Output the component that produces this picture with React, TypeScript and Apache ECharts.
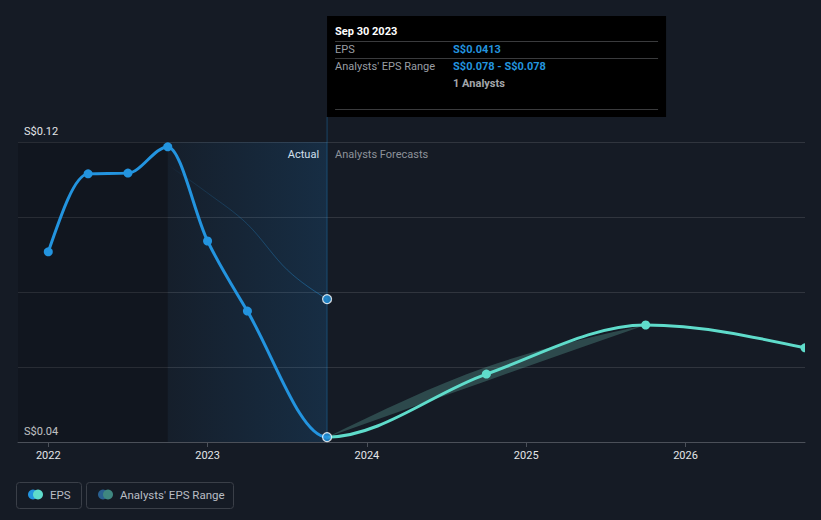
import React, { useEffect, useRef } from "react";
import * as echarts from "echarts";

// Decimal-year positions (quarter ends) and EPS values (S$)
const actualX = [2022.0, 2022.25, 2022.5, 2022.75, 2023.0, 2023.25, 2023.75];
const actualEps = [0.0907, 0.1115, 0.1117, 0.1187, 0.0936, 0.0749, 0.0413];
const pastEstX = [2022.75, 2023.0, 2023.25, 2023.5, 2023.75];
const pastEst = [0.1139, 0.1064, 0.0981, 0.0859, 0.0781];
const forecastX = [2023.75, 2024.75, 2025.75, 2026.75];
const forecastEps = [0.0413, 0.0581, 0.0712, 0.0651];
const rangeX = [2023.75, 2024.75, 2025.75];
const rangeLow = [0.0413, 0.0563, 0.0712];
const rangeHigh = [0.0413, 0.06, 0.0712];
const yearTicks = [2022, 2023, 2024, 2025, 2026];
const yTickLabels = [0.04, 0.12];

const X_MIN = 2021.81;
const X_MAX = 2026.75;
const HOVER_X = 2023.75;
const SPLIT_X = 2022.75;

const FONT = "Roboto, 'Noto Sans', sans-serif";
const BLUE = "#2394df";
const TEAL = "#5fdccb";
const BG = "#151b25";

// d3-style monotoneX tangents (pixel space)
function sgn(x: number) {
  return x < 0 ? -1 : 1;
}
function tangents(p: number[][]): number[] {
  const n = p.length;
  const t = new Array(n).fill(0);
  if (n < 2) return t;
  if (n === 2) {
    const s = (p[1][1] - p[0][1]) / (p[1][0] - p[0][0]);
    t[0] = s;
    t[1] = s;
    return t;
  }
  for (let i = 1; i < n - 1; i++) {
    const h0 = p[i][0] - p[i - 1][0];
    const h1 = p[i + 1][0] - p[i][0];
    const s0 = (p[i][1] - p[i - 1][1]) / h0;
    const s1 = (p[i + 1][1] - p[i][1]) / h1;
    const pp = (s0 * h1 + s1 * h0) / (h0 + h1);
    t[i] = (sgn(s0) + sgn(s1)) * Math.min(Math.abs(s0), Math.abs(s1), 0.5 * Math.abs(pp)) || 0;
  }
  const hA = p[1][0] - p[0][0];
  t[0] = (3 * (p[1][1] - p[0][1]) / hA - t[1]) / 2;
  const hB = p[n - 1][0] - p[n - 2][0];
  t[n - 1] = (3 * (p[n - 1][1] - p[n - 2][1]) / hB - t[n - 2]) / 2;
  return t;
}
function segs(p: number[][], t: number[], from: number, to: number): string {
  let d = "";
  for (let i = from; i < to; i++) {
    const [x0, y0] = p[i];
    const [x1, y1] = p[i + 1];
    const dx = (x1 - x0) / 3;
    d += ` C ${x0 + dx} ${y0 + dx * t[i]} ${x1 - dx} ${y1 - dx * t[i + 1]} ${x1} ${y1}`;
  }
  return d;
}
function segsReverse(p: number[][], t: number[]): string {
  let d = "";
  for (let i = p.length - 1; i > 0; i--) {
    const [x1, y1] = p[i];
    const [x0, y0] = p[i - 1];
    const dx = (x1 - x0) / 3;
    d += ` C ${x1 - dx} ${y1 - dx * t[i]} ${x0 + dx} ${y0 + dx * t[i - 1]} ${x0} ${y0}`;
  }
  return d;
}

export default function App() {
  const ref = useRef<HTMLDivElement>(null);
  useEffect(() => {
    document.body.style.margin = "0";
    const chart = echarts.init(ref.current!, null, { renderer: "svg" });

    // combined EPS path (actual then forecast, sharing the hover point)
    const combX = actualX.concat(forecastX.slice(1));
    const combY = actualEps.concat(forecastEps.slice(1));
    const splitIdx = actualX.length - 1;

    const option: any = {
      animation: false,
      backgroundColor: BG,
      textStyle: { fontFamily: FONT },
      grid: { left: 18, right: 16, top: 142, bottom: 78, containLabel: false },
      tooltip: { show: false },
      xAxis: {
        type: "value",
        min: X_MIN,
        max: X_MAX,
        splitLine: { show: false },
        axisLine: { lineStyle: { color: "#4b5059", width: 1 } },
        axisTick: { show: true, length: 5, customValues: yearTicks, lineStyle: { color: "#4b5059" } },
        axisLabel: {
          customValues: yearTicks,
          formatter: (v: number) => String(Math.round(v)),
          color: "#e3e5e8",
          fontSize: 11,
          margin: 8,
          fontFamily: FONT,
        },
      },
      yAxis: {
        type: "value",
        min: 0.04,
        max: 0.12,
        interval: 0.02,
        axisLine: { show: false },
        axisTick: { show: false },
        splitLine: { lineStyle: { color: "#30353e", width: 1 } },
        axisLabel: {
          inside: true,
          margin: 6,
          verticalAlign: "bottom",
          padding: [0, 0, 5, 0],
          color: "#e3e5e8",
          fontSize: 11,
          fontFamily: FONT,
          formatter: (v: number) =>
            yTickLabels.some((t) => Math.abs(t - v) < 1e-6) ? "S$" + v.toFixed(2) : "",
        },
      },
      series: [
        {
          name: "Analysts' EPS Range",
          type: "custom",
          silent: true,
          z: 1,
          encode: { x: 0, y: 1 },
          data: rangeX.map((x, i) => [x, rangeHigh[i]]),
          renderItem: (params: any, api: any) => {
            if (params.dataIndex !== 0) return null;
            const up = rangeX.map((x, i) => api.coord([x, rangeHigh[i]]));
            const lo = rangeX.map((x, i) => api.coord([x, rangeLow[i]]));
            const tu = tangents(up);
            const tl = tangents(lo);
            const d =
              `M ${up[0][0]} ${up[0][1]}` +
              segs(up, tu, 0, up.length - 1) +
              ` L ${lo[lo.length - 1][0]} ${lo[lo.length - 1][1]}` +
              segsReverse(lo, tl) +
              " Z";
            return {
              type: "path",
              shape: { pathData: d },
              style: { fill: "rgba(95,170,160,0.32)", stroke: "none" },
            };
          },
        },
        {
          name: "Past estimate",
          type: "custom",
          silent: true,
          z: 2,
          encode: { x: 0, y: 1 },
          data: pastEstX.map((x, i) => [x, pastEst[i]]),
          renderItem: (params: any, api: any) => {
            if (params.dataIndex !== 0) return null;
            const p = pastEstX.map((x, i) => api.coord([x, pastEst[i]]));
            const t = tangents(p);
            const d = `M ${p[0][0]} ${p[0][1]}` + segs(p, t, 0, p.length - 1);
            return {
              type: "path",
              shape: { pathData: d },
              style: {
                fill: "none",
                lineWidth: 1,
                stroke: new echarts.graphic.LinearGradient(0, 0, 1, 0, [
                  { offset: 0, color: "rgba(35,148,223,0)" },
                  { offset: 0.12, color: "rgba(35,148,223,0.12)" },
                  { offset: 1, color: "rgba(35,148,223,0.45)" },
                ]),
              },
            };
          },
        },
        {
          name: "EPS",
          type: "custom",
          silent: true,
          z: 3,
          clip: true,
          encode: { x: 0, y: 1 },
          data: combX.map((x, i) => [x, combY[i]]),
          renderItem: (params: any, api: any) => {
            if (params.dataIndex !== 0) return null;
            const p = combX.map((x, i) => api.coord([x, combY[i]]));
            const t = tangents(p);
            const dA = `M ${p[0][0]} ${p[0][1]}` + segs(p, t, 0, splitIdx);
            const dF = `M ${p[splitIdx][0]} ${p[splitIdx][1]}` + segs(p, t, splitIdx, p.length - 1);
            const dots = p
              .map((pt, i) =>
                i === splitIdx
                  ? null
                  : {
                      type: "circle",
                      shape: { cx: pt[0], cy: pt[1], r: 4.5 },
                      style: { fill: i < splitIdx ? BLUE : TEAL },
                    }
              )
              .filter(Boolean);
            return {
              type: "group",
              children: [
                {
                  type: "path",
                  shape: { pathData: dF },
                  style: { fill: "none", stroke: TEAL, lineWidth: 3, lineCap: "round", lineJoin: "round" },
                },
                {
                  type: "path",
                  shape: { pathData: dA },
                  style: { fill: "none", stroke: BLUE, lineWidth: 3, lineCap: "round", lineJoin: "round" },
                },
                ...dots,
              ],
            };
          },
        },
        {
          name: "Hover points",
          type: "scatter",
          silent: true,
          z: 4,
          symbol: "circle",
          symbolSize: 9,
          itemStyle: { color: BLUE, borderColor: "#ffffff", borderWidth: 1.2 },
          data: [
            [actualX[splitIdx], actualEps[splitIdx]],
            [pastEstX[pastEstX.length - 1], pastEst[pastEst.length - 1]],
          ],
          markArea: {
            silent: true,
            data: [
              [
                { xAxis: X_MIN, itemStyle: { color: "rgba(0,0,0,0.16)" } },
                { xAxis: SPLIT_X },
              ],
              [
                {
                  xAxis: SPLIT_X,
                  itemStyle: {
                    color: new echarts.graphic.LinearGradient(0, 0, 1, 0, [
                      { offset: 0, color: "rgba(33,150,243,0.03)" },
                      { offset: 1, color: "rgba(33,150,243,0.15)" },
                    ]),
                  },
                },
                { xAxis: HOVER_X },
              ],
            ],
          },
        },
      ],
    };
    chart.setOption(option);

    const [hx, yBottom] = chart.convertToPixel({ gridIndex: 0 }, [HOVER_X, 0.04]) as number[];
    const [, yTop] = chart.convertToPixel({ gridIndex: 0 }, [HOVER_X, 0.12]) as number[];
    const tipTop = 16;
    const tipH = 101;
    const tipW = 339;
    const tx = hx + 8;
    const vx = hx + 126;
    const dividerColor = "#3a3b3d";

    const legendItems = [
      { x: 16, w: 65, c1: BLUE, c2: TEAL, label: "EPS" },
      { x: 86, w: 147, c1: "#2a6090", c2: "#3f8780", label: "Analysts' EPS Range" },
    ];

    const graphic: any[] = [
      {
        type: "line",
        silent: true,
        z: 2,
        shape: { x1: hx, y1: tipTop + tipH, x2: hx, y2: yBottom },
        style: { stroke: "rgba(35,148,223,0.35)", lineWidth: 1 },
      },
      {
        type: "text",
        silent: true,
        x: hx - 8,
        y: yTop + 12,
        style: {
          text: "Actual",
          fill: "#e8eaed",
          font: `11px ${FONT}`,
          align: "right",
          verticalAlign: "middle",
        },
      },
      {
        type: "text",
        silent: true,
        x: hx + 8,
        y: yTop + 12,
        style: {
          text: "Analysts Forecasts",
          fill: "#8d929a",
          font: `11px ${FONT}`,
          align: "left",
          verticalAlign: "middle",
        },
      },
      {
        type: "rect",
        silent: true,
        z: 50,
        shape: { x: hx, y: tipTop, width: tipW, height: tipH },
        style: { fill: "#000000" },
      },
      {
        type: "text",
        silent: true,
        z: 51,
        x: tx,
        y: 31,
        style: { text: "Sep 30 2023", fill: "#ffffff", font: `bold 11px ${FONT}`, verticalAlign: "middle" },
      },
      {
        type: "line",
        silent: true,
        z: 51,
        shape: { x1: tx, y1: 41.5, x2: hx + tipW - 8, y2: 41.5 },
        style: { stroke: dividerColor, lineWidth: 1 },
      },
      {
        type: "text",
        silent: true,
        z: 51,
        x: tx,
        y: 49.5,
        style: { text: "EPS", fill: "#9a9ea4", font: `11px ${FONT}`, verticalAlign: "middle" },
      },
      {
        type: "text",
        silent: true,
        z: 51,
        x: vx,
        y: 49.5,
        style: { text: "S$0.0413", fill: BLUE, font: `bold 11px ${FONT}`, verticalAlign: "middle" },
      },
      {
        type: "line",
        silent: true,
        z: 51,
        shape: { x1: tx, y1: 58.5, x2: hx + tipW - 8, y2: 58.5 },
        style: { stroke: dividerColor, lineWidth: 1 },
      },
      {
        type: "text",
        silent: true,
        z: 51,
        x: tx,
        y: 66,
        style: { text: "Analysts' EPS Range", fill: "#9a9ea4", font: `11px ${FONT}`, verticalAlign: "middle" },
      },
      {
        type: "text",
        silent: true,
        z: 51,
        x: vx,
        y: 66,
        style: { text: "S$0.078 - S$0.078", fill: BLUE, font: `bold 11px ${FONT}`, verticalAlign: "middle" },
      },
      {
        type: "text",
        silent: true,
        z: 51,
        x: vx,
        y: 83,
        style: { text: "1 Analysts", fill: "#a3a6aa", font: `bold 11px ${FONT}`, verticalAlign: "middle" },
      },
      {
        type: "line",
        silent: true,
        z: 51,
        shape: { x1: tx, y1: 109.5, x2: hx + tipW - 8, y2: 109.5 },
        style: { stroke: dividerColor, lineWidth: 1 },
      },
    ];

    legendItems.forEach((it) => {
      graphic.push({
        type: "rect",
        silent: true,
        shape: { x: it.x + 0.5, y: 482.5, width: it.w, height: 26, r: 3 },
        style: { fill: "none", stroke: "#3a3f48", lineWidth: 1 },
      });
      graphic.push({
        type: "circle",
        silent: true,
        shape: { cx: it.x + 17, cy: 494.5, r: 5 },
        style: { fill: it.c1 },
      });
      graphic.push({
        type: "circle",
        silent: true,
        shape: { cx: it.x + 22, cy: 494.5, r: 5 },
        style: { fill: it.c2 },
      });
      graphic.push({
        type: "text",
        silent: true,
        x: it.x + 34,
        y: 495,
        style: { text: it.label, fill: "#b9bdc4", font: `11.5px ${FONT}`, verticalAlign: "middle" },
      });
    });

    chart.setOption({ graphic });

    return () => chart.dispose();
  }, []);
  return <div ref={ref} style={{ width: 821, height: 520 }} />;
}
